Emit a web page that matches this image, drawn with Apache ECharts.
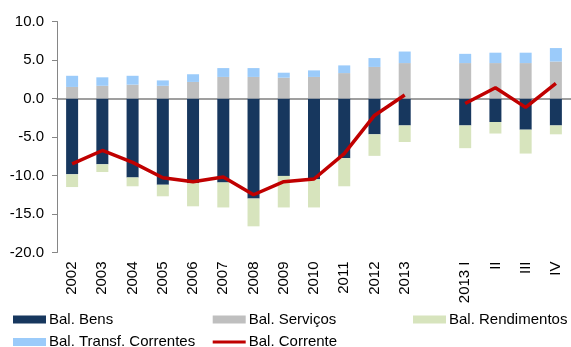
<!DOCTYPE html>
<html>
<head>
<meta charset="utf-8">
<script src="https://cdn.jsdelivr.net/npm/echarts@6/dist/echarts.min.js"></script>
<style>
  html, body { margin: 0; padding: 0; background: #ffffff; }
  #chart { width: 571px; height: 347px; }
</style>
</head>
<body>
<div id="chart"></div>
<script>
// Categories: annual 2002–2013, a gap, then the 2013 quarters
const categories = ['2002', '2003', '2004', '2005', '2006', '2007', '2008', '2009', '2010', '2011', '2012', '2013', '', '2013 I', 'II', 'III', 'IV'];

// Components of the current account balance (% of GDP)
const balBens = [-9.85, -8.55, -10.25, -11.2, -11.0, -10.9, -13.0, -10.05, -10.5, -7.75, -4.65, -3.5, null, -3.5, -3.05, -4.05, -3.5];
const balServicos = [1.5, 1.65, 1.8, 1.65, 2.15, 2.8, 2.8, 2.7, 2.8, 3.3, 4.1, 4.6, null, 4.6, 4.6, 4.6, 4.8];
const balRendimentos = [-1.65, -1.0, -1.15, -1.5, -3.0, -3.25, -3.6, -4.1, -3.65, -3.65, -2.8, -2.15, null, -2.95, -1.5, -3.1, -1.15];
const balTransf = [1.45, 1.1, 1.15, 0.7, 1.0, 1.15, 1.15, 0.65, 0.85, 1.0, 1.15, 1.5, null, 1.2, 1.35, 1.35, 1.75];
const balCorrente = [-8.5, -6.75, -8.3, -10.3, -10.8, -10.2, -12.5, -10.8, -10.45, -7.15, -2.2, 0.45, null, -0.65, 1.4, -1.15, 1.95];

// Value-axis ticks
const yMin = -20, yMax = 10, yStep = 5;

const FONT = 'Liberation Sans, Arial, sans-serif';
const TEXT = '#000000';

const chart = echarts.init(document.getElementById('chart'), null, { renderer: 'canvas' });

function bar(name, data, color) {
  return {
    name: name,
    type: 'bar',
    stack: 'bal',
    barWidth: 12,
    data: data,
    itemStyle: { color: color },
    emphasis: { disabled: true }
  };
}

function legendItem(name, left, top, iconH) {
  return {
    data: [name],
    left: left,
    top: top,
    padding: 0,
    icon: 'rect',
    itemWidth: 33,
    itemHeight: iconH,
    selectedMode: false,
    textStyle: { fontFamily: FONT, fontSize: 15, color: TEXT, padding: [0, 0, 0, -2] }
  };
}

chart.setOption({
  animation: false,
  backgroundColor: '#ffffff',
  grid: { left: 57, right: -11.4, top: 21.5, bottom: 94.5, containLabel: false },
  xAxis: [
    {
      type: 'category',
      data: categories,
      position: 'bottom',
      axisLine: { show: false, onZero: false },
      axisTick: { show: false },
      axisLabel: {
        interval: 0,
        rotate: 90,
        margin: 9,
        fontFamily: FONT,
        fontSize: 15,
        color: TEXT
      },
      splitLine: { show: false }
    },
    {
      // zero line across the plot
      type: 'category',
      data: categories,
      position: 'top',
      axisLine: { show: true, onZero: true, lineStyle: { color: '#808080', width: 1.5 } },
      axisTick: { show: false },
      axisLabel: { show: false },
      splitLine: { show: false }
    }
  ],
  yAxis: {
    type: 'value',
    min: yMin,
    max: yMax,
    interval: yStep,
    axisLine: { show: true, lineStyle: { color: '#868686', width: 1 } },
    axisTick: { show: true, inside: false, length: 5, lineStyle: { color: '#868686' } },
    axisLabel: {
      margin: 13,
      fontFamily: FONT,
      fontSize: 15,
      color: TEXT,
      formatter: v => v.toFixed(1)
    },
    splitLine: { show: false }
  },
  legend: [
    legendItem('Bal. Bens', 13, 312, 8),
    legendItem('Bal. Serviços', 212.7, 312, 8),
    legendItem('Bal. Rendimentos', 413, 312, 8),
    legendItem('Bal. Transf. Correntes', 13, 334.5, 8),
    legendItem('Bal. Corrente', 212.7, 334.5, 3)
  ],
  series: [
    bar('Bal. Bens', balBens, '#17375E'),
    bar('Bal. Serviços', balServicos, '#BFBFBF'),
    bar('Bal. Rendimentos', balRendimentos, '#D7E4BD'),
    bar('Bal. Transf. Correntes', balTransf, '#9BCBFA'),
    {
      name: 'Bal. Corrente',
      type: 'line',
      data: balCorrente,
      connectNulls: false,
      symbol: 'none',
      z: 5,
      lineStyle: { color: '#C00000', width: 3.5 },
      itemStyle: { color: '#C00000' },
      emphasis: { disabled: true }
    }
  ]
});
</script>
</body>
</html>
